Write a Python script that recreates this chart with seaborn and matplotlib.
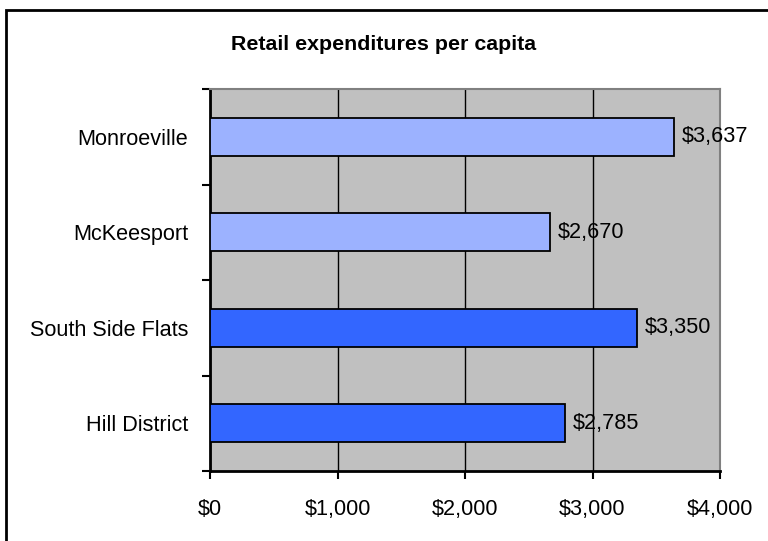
import matplotlib
matplotlib.use("Agg")
import matplotlib.pyplot as plt
from matplotlib.patches import Rectangle
import seaborn as sns
import pandas as pd

# Retail spending per capita by neighbourhood
areas = ["Monroeville", "McKeesport", "South Side Flats", "Hill District"]
spending = [3637, 2670, 3350, 2785]
bar_colors = ["#9CB2FF", "#9CB2FF", "#3366FF", "#3366FF"]
x_ticks = [0, 1000, 2000, 3000, 4000]

sns.set_theme(style="white")
plt.rcParams["font.family"] = ["Liberation Sans", "DejaVu Sans"]
plt.rcParams["text.color"] = "black"
plt.rcParams["xtick.color"] = "black"
plt.rcParams["ytick.color"] = "black"

FS = 15.6

df = pd.DataFrame({"area": areas, "spending": spending})

fig = plt.figure(figsize=(7.68, 5.41), dpi=100)
ax = fig.add_axes([210 / 768, 1 - 471 / 541, 510 / 768, 382 / 541])

sns.barplot(data=df, y="area", x="spending", hue="area", palette=bar_colors,
            saturation=1, orient="h", width=0.4, edgecolor="black",
            linewidth=1.3, legend=False, ax=ax, zorder=3)

ax.set_facecolor("#C0C0C0")
ax.set_xlim(0, 4000)
ax.set_ylim(3.5, -0.5)
ax.set_xticks(x_ticks)
ax.set_xticklabels([f"${v:,.0f}" for v in x_ticks], fontsize=FS)
ax.set_yticks(range(len(areas)))
ax.set_yticklabels(areas, fontsize=FS)
ax.set_yticks([i - 0.5 for i in range(len(areas) + 1)], minor=True)
ax.tick_params(axis="y", which="major", length=0, pad=15.8)
ax.tick_params(axis="y", which="minor", length=6, width=1.5, color="black",
               direction="out", left=True)
ax.tick_params(axis="x", which="major", length=6, width=1.5, color="black",
               direction="out", bottom=True, pad=14.4)
ax.set_xlabel("")
ax.set_ylabel("")

ax.grid(axis="x", color="black", linewidth=1, zorder=1)
ax.set_axisbelow(True)

for side in ("left", "bottom"):
    ax.spines[side].set_color("black")
    ax.spines[side].set_linewidth(2)
for side in ("top", "right"):
    ax.spines[side].set_color("#808080")
    ax.spines[side].set_linewidth(1.5)

for i, v in enumerate(spending):
    ax.text(v + 60, i, f"${v:,.0f}", va="center", ha="left", fontsize=FS,
            clip_on=False, zorder=4)

fig.text(384 / 768, 1 - 44 / 541, "Retail expenditures per capita",
         ha="center", va="center", fontsize=15.4, fontweight="bold")

# Outer chart frame
fig.patches.append(Rectangle((6 / 768, -0.05), 1.0, 1 - 10 / 541 + 0.05,
                             transform=fig.transFigure, fill=False,
                             edgecolor="black", linewidth=2))

fig.savefig("out.png", dpi=100)
